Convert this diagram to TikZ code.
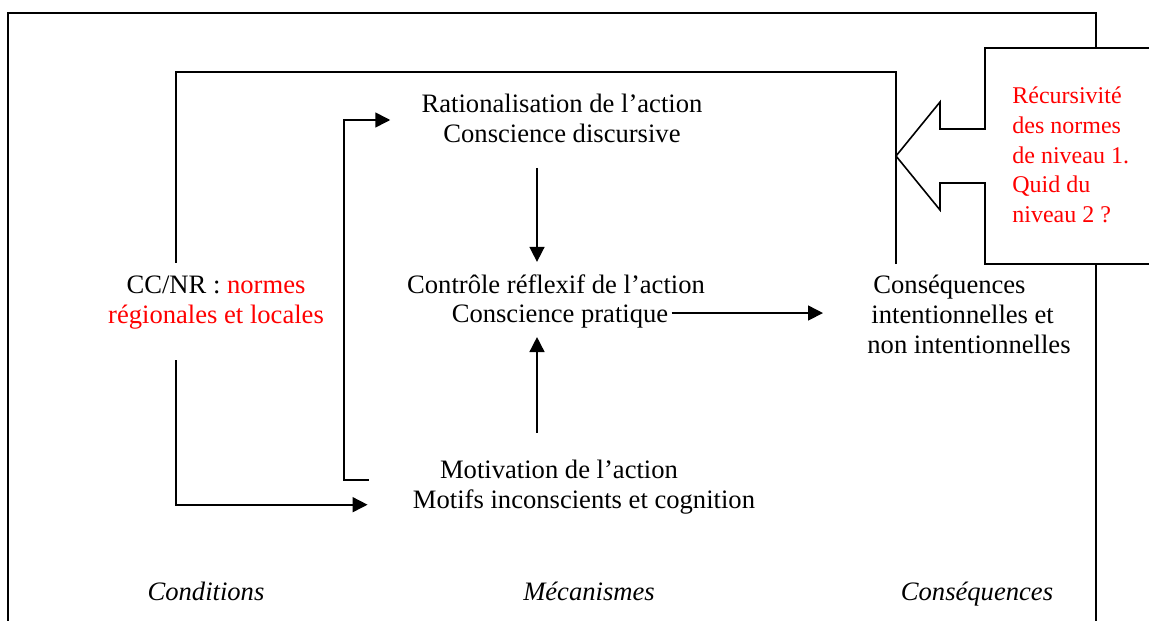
\documentclass[tikz,border=0pt]{standalone}
\usepackage{fontspec}
\setmainfont{Liberation Serif}
\usetikzlibrary{arrows.meta, positioning}
\definecolor{normred}{RGB}{255, 0, 0}

\begin{document}
\begin{tikzpicture}[x=0.5pt, y=-0.5pt,
  txt/.style={inner sep=0pt, font=\fontsize{13.3}{15}\selectfont},
  lab/.style={txt, anchor=base, font=\fontsize{13.3}{15}\selectfont\itshape},
  line/.style={line width=0.8pt},
  arr/.style={line width=0.8pt, -{Triangle[length=7.5pt, width=7.5pt]}}]
  \useasboundingbox (0,0) rectangle (1149,620);

  % Frame
  \draw[line] (8,630) -- (8,13) -- (1096,13) -- (1096,48);
  \draw[line] (1096,264) -- (1096,630);

  % Callout
  \draw[line, fill=white] (1160,48) -- (985,48) -- (985,129) -- (940,129) -- (940,102) -- (896,156)
    -- (940,210) -- (940,183) -- (985,183) -- (985,264) -- (1160,264);
  \node[txt, align=left, anchor=west, text=normred, font=\fontsize{12}{14.9}\selectfont] (rec) at (1012,155) {
    Récursivité\\des normes\\de niveau 1.\\Quid du\\niveau 2 ?
  };

  % Mechanisms
  \node[txt, align=center] (rat) at (562,118) {Rationalisation de l'action\\Conscience discursive};
  \node[txt, anchor=base] (ctl) at (556,293) {Contrôle réflexif de l'action};
  \node[txt, anchor=base] (pra) at (560,322) {Conscience pratique};
  \node[txt, align=center] (mot) at (584,487) {Motivation de l'action\hspace*{25pt}\\Motifs inconscients et cognition};

  % Conditions
  \node[txt, align=center] (cc) at (216,303) {
    CC/NR : \textcolor{normred}{normes}\\\textcolor{normred}{régionales et locales}
  };

  % Consequences
  \node[txt, align=left, anchor=west] (cons) at (867,314) {
    \hspace*{3pt}Conséquences\\\hspace*{2pt}intentionnelles et\\non intentionnelles
  };

  \coordinate (axis) at (537,0);
  \coordinate (fbr) at (896,72);
  \coordinate (fbl) at (176,72);
  \coordinate (inl) at (344,0);

  \draw[arr, shorten <=12.5pt, shorten >=6pt] (rat.south -| axis) -- (ctl.north -| axis);
  \draw[arr, shorten <=13.5pt, shorten >=4.5pt] (mot.north -| axis) -- (pra.south -| axis);
  \draw[arr, shorten <=1.5pt, shorten >=22pt] ([yshift=1.5pt]pra.east) -- ([yshift=1.5pt]pra.east -| cons.west);

  % Feedback loop
  \draw[line, shorten <=5pt, shorten >=6.5pt] (cons.north -| fbr) -- (fbr) -- (fbl) -- (cc.north -| fbl);
  \draw[arr, shorten <=15pt, shorten >=22.5pt] (cc.south -| fbl) |- ([yshift=4.9pt]mot.south west);
  \draw[arr, shorten <=22pt, shorten >=15.5pt] ([yshift=3.4pt]mot.west) -- ([yshift=3.4pt]mot.west -| inl)
    |- ([yshift=-1pt]rat.west);

  % Column labels
  \node[lab] (lcond) at (206,600) {Conditions};
  \node[lab] (lmeca) at (589,600) {Mécanismes};
  \node[lab] (lcons) at (977,600) {Conséquences};
\end{tikzpicture}
\end{document}
